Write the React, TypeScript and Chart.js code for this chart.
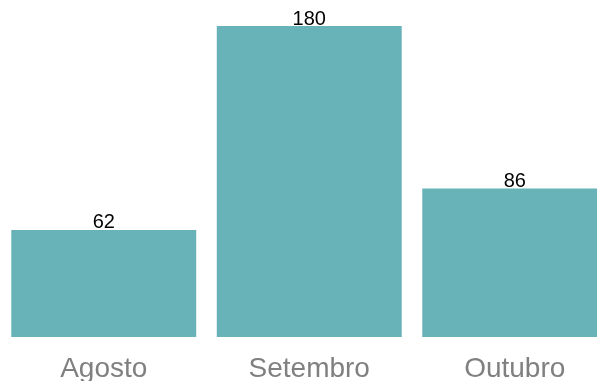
import React, { useEffect, useRef } from "react";
import { Chart, registerables } from "chart.js";

Chart.register(...registerables);

const categories = ["Agosto", "Setembro", "Outubro"];
const values = [62, 180, 86];
const valueLabels = ["62", "180", "86"];

const FONT = "'Liberation Sans', Arial, Helvetica, sans-serif";

const labelPlugin = {
  id: "customLabels",
  afterDatasetsDraw(chart: any) {
    const ctx = chart.ctx;
    const meta = chart.getDatasetMeta(0);
    const xScale = chart.scales.x;
    ctx.save();
    ctx.textAlign = "center";
    ctx.textBaseline = "alphabetic";
    ctx.fillStyle = "#000000";
    ctx.font = `20px ${FONT}`;
    meta.data.forEach((bar: any, i: number) => {
      ctx.fillText(valueLabels[i], bar.x, bar.y - 1.5);
    });
    ctx.fillStyle = "#808080";
    ctx.font = `28px ${FONT}`;
    categories.forEach((c, i) => {
      ctx.fillText(c, xScale.getPixelForValue(i), 377);
    });
    ctx.restore();
  },
};

export default function App() {
  const ref = useRef<HTMLCanvasElement>(null);
  useEffect(() => {
    if (!ref.current) return;
    const chart = new Chart(ref.current, {
      type: "bar",
      data: {
        labels: categories,
        datasets: [
          {
            data: values,
            backgroundColor: "#68b3b8",
            borderWidth: 0,
            barPercentage: 1,
            categoryPercentage: 0.9,
          },
        ],
      },
      options: {
        animation: false,
        responsive: false,
        maintainAspectRatio: false,
        layout: { padding: { left: 1, right: 2.5, top: 26, bottom: 44 } },
        plugins: { legend: { display: false }, tooltip: { enabled: false } },
        scales: {
          x: {
            display: true,
            grid: { display: false, drawTicks: false },
            border: { display: false },
            ticks: { display: false },
          },
          y: {
            display: false,
            min: 0,
            max: 180,
          },
        },
      },
      plugins: [labelPlugin],
    });
    return () => chart.destroy();
  }, []);
  return (
    <div
      style={{
        position: "fixed",
        left: 0,
        top: 0,
        width: 597,
        height: 381,
        overflow: "hidden",
        background: "#ffffff",
      }}
    >
      <canvas ref={ref} width={620} height={381} style={{ display: "block" }} />
    </div>
  );
}
